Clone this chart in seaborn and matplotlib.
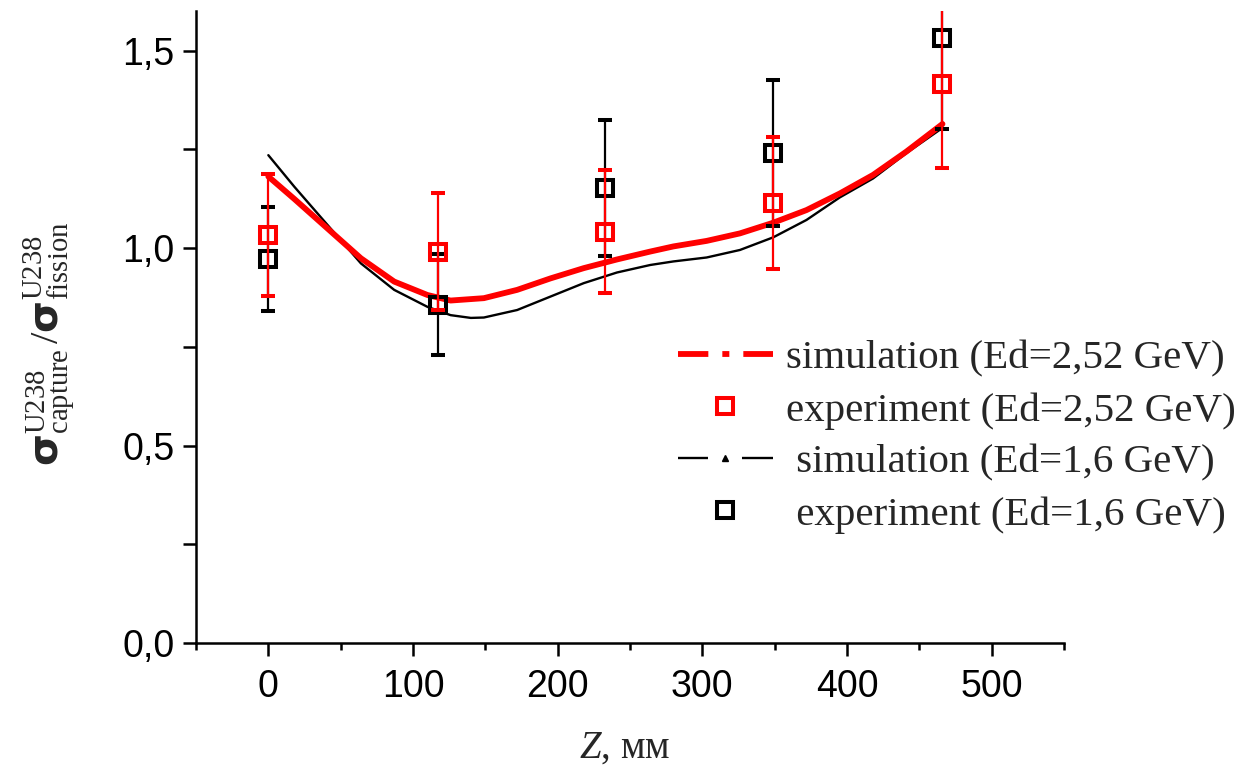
import matplotlib
matplotlib.use('Agg')
import matplotlib.pyplot as plt
import seaborn as sns
import pandas as pd
from matplotlib.lines import Line2D
from matplotlib.ticker import MultipleLocator, FuncFormatter

# ---- data ----
z_sim_252 = [0, 18, 41, 64, 87, 110, 126, 149, 172, 195, 218, 241, 264, 280, 303,
             326, 349, 372, 395, 418, 441, 466]
r_sim_252 = [1.181, 1.124, 1.049, 0.974, 0.915, 0.881, 0.867, 0.873, 0.894, 0.923,
             0.949, 0.971, 0.991, 1.004, 1.018, 1.037, 1.064, 1.096, 1.138, 1.185,
             1.244, 1.314]
z_sim_16 = [0, 18, 41, 64, 87, 110, 126, 140, 149, 172, 195, 218, 241, 264, 280, 303,
            326, 349, 372, 395, 418, 441, 466]
r_sim_16 = [1.235, 1.155, 1.058, 0.961, 0.894, 0.851, 0.830, 0.823, 0.824, 0.843,
            0.877, 0.911, 0.938, 0.957, 0.966, 0.976, 0.995, 1.027, 1.071, 1.128,
            1.176, 1.240, 1.304]

z_exp = [0, 117, 233, 349, 466]
r_exp_252 = [1.033, 0.990, 1.041, 1.113, 1.415]
e_exp_252 = [0.155, 0.148, 0.156, 0.167, 0.213]
r_exp_16 = [0.972, 0.856, 1.152, 1.240, 1.532]
e_exp_16 = [0.132, 0.128, 0.172, 0.185, 0.231]

x_ticks = [0, 100, 200, 300, 400, 500]
y_ticks = [0.0, 0.5, 1.0, 1.5]

labels = ['simulation (Ed=2,52 GeV)', 'experiment (Ed=2,52 GeV)',
          ' simulation (Ed=1,6 GeV)', ' experiment (Ed=1,6 GeV)']

# ---- style ----
sns.set_theme(style='ticks')
plt.rcParams['font.family'] = ['Liberation Sans', 'DejaVu Sans']
plt.rcParams['mathtext.fontset'] = 'custom'
plt.rcParams['mathtext.rm'] = 'Liberation Serif'
plt.rcParams['mathtext.it'] = 'Liberation Serif:italic'
plt.rcParams['mathtext.bf'] = 'Liberation Serif:bold'
plt.rcParams['mathtext.sf'] = 'DejaVu Sans:bold'

W, H = 1235, 767
fig = plt.figure(figsize=(W / 100, H / 100), dpi=100)
L, R, B, T = 196, 1064, 643, 11
ax = fig.add_axes([L / W, 1 - B / H, (R - L) / W, (B - T) / H])

df16 = pd.DataFrame({'z': z_sim_16, 'r': r_sim_16})
df252 = pd.DataFrame({'z': z_sim_252, 'r': r_sim_252})
sns.lineplot(data=df16, x='z', y='r', color='black', linewidth=1.7, sort=False,
             ax=ax, legend=False, zorder=2)
sns.lineplot(data=df252, x='z', y='r', color='red', linewidth=4.2, sort=False,
             ax=ax, legend=False, zorder=3)

ax.errorbar(z_exp, r_exp_16, yerr=e_exp_16, fmt='s', ms=12, mfc='none', mec='black',
            mew=2.9, ecolor='black', elinewidth=1.6, capsize=5.2, capthick=1.6, zorder=4)
ax.errorbar(z_exp, r_exp_252, yerr=e_exp_252, fmt='s', ms=12, mfc='none', mec='red',
            mew=2.9, ecolor='red', elinewidth=1.6, capsize=5.2, capthick=1.6, zorder=5)

ax.set_xlim(-50, 550)
ax.set_ylim(0, 1.6)
ax.set_xticks(x_ticks)
ax.set_yticks(y_ticks)
ax.xaxis.set_minor_locator(MultipleLocator(50))
ax.yaxis.set_minor_locator(MultipleLocator(0.25))
ax.yaxis.set_major_formatter(FuncFormatter(lambda v, p: f'{v:.1f}'.replace('.', ',')))
ax.xaxis.set_major_formatter(FuncFormatter(lambda v, p: f'{v:.0f}'))

for s in ['top', 'right']:
    ax.spines[s].set_visible(False)
for s in ['left', 'bottom']:
    ax.spines[s].set_linewidth(1.8)
    ax.spines[s].set_color('black')

ax.tick_params(which='both', direction='out', width=1.8, color='black', labelsize=27,
               labelcolor='black')
ax.tick_params(axis='x', which='major', length=9, pad=10)
ax.tick_params(axis='x', which='minor', length=5)
ax.tick_params(axis='y', which='both', length=9.5, pad=6)
ax.set_xlabel('')
ax.set_ylabel('')

fig.text(625 / W, 1 - 748 / H, '$Z$, мм', fontsize=28, family=['Liberation Serif'],
         ha='center', va='center')
fig.text(50 / W, 1 - 344 / H,
         r'$\mathsf{σ}^{\rm U238}_{\rm capture}\,/\mathsf{σ}^{\rm U238}_{\rm fission}$',
         fontsize=29.5, rotation=90, ha='center', va='center')

handles = [
    Line2D([0], [0], color='red', lw=4.2, linestyle=(0, (5.2, 2.4, 1.2, 2.4, 10))),
    Line2D([], [], ls='none', marker='s', ms=12, mfc='none', mec='red', mew=2.9),
    Line2D([0], [0], color='black', lw=1.7, linestyle=(0, (12.7, 14.4, 20)),
           marker='^', ms=5),
    Line2D([], [], ls='none', marker='s', ms=12, mfc='none', mec='black', mew=2.9),
]
leg = ax.legend(handles, labels, loc='upper left', bbox_to_anchor=(678 / W, 1 - 340 / H),
                bbox_transform=fig.transFigure, frameon=False, borderpad=0,
                borderaxespad=0, labelspacing=0.35, handletextpad=0.32,
                handlelength=2.31, numpoints=1,
                prop={'family': 'Liberation Serif', 'size': 29.5})

fig.savefig('out.png', dpi=100)
